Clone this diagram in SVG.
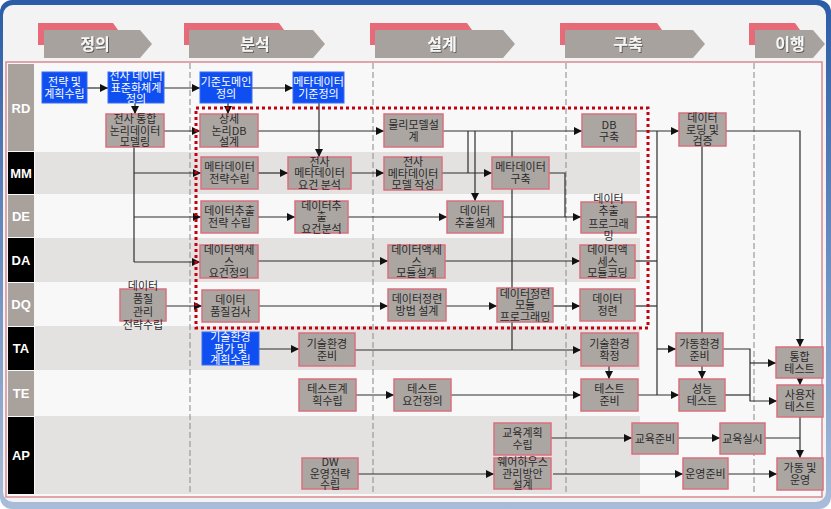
<svg xmlns="http://www.w3.org/2000/svg" width="831" height="509" viewBox="0 0 831 509">
<defs>
<linearGradient id="bg" x1="0" y1="0" x2="0" y2="1">
<stop offset="0" stop-color="#2a5ca6"/><stop offset="1" stop-color="#a9bdd9"/>
</linearGradient>
<marker id="ah" viewBox="0 0 10 10" refX="10" refY="5" markerWidth="8" markerHeight="8" markerUnits="userSpaceOnUse" orient="auto">
<path d="M0,0 L10,5 L0,10 z" fill="#111"/>
</marker>
<filter id="sh" x="-20%" y="-20%" width="140%" height="140%">
<feDropShadow dx="1" dy="1" stdDeviation="0.6" flood-color="#555" flood-opacity="0.9"/>
</filter>
<style>
.ln{fill:none;stroke:#2e2e2e;stroke-width:1.2}
.a{marker-end:url(#ah)}
.g rect{fill:#aca6a2;stroke:#d8707e;stroke-width:1.5}
.b rect{fill:#0f4ff2;stroke:#3a6cf0;stroke-width:1}
.tx{font-family:"Noto Sans CJK KR","Noto Sans",sans-serif;font-size:11px;text-anchor:middle;fill:#2a2a2a}
.b .tx{fill:#ffffff}
.hd{font-family:"Noto Sans CJK KR","Noto Sans",sans-serif;font-size:16px;font-weight:bold;text-anchor:middle;fill:#f6f6f6;filter:url(#sh)}
.rl{font-family:"Liberation Sans","Noto Sans",sans-serif;font-size:13px;font-weight:bold;text-anchor:middle;fill:#ffffff}
.pk{fill:#e66a78}
.cv{fill:#a8a29e}
.sep{stroke:#9a9a9a;stroke-width:1.2;stroke-dasharray:6 3;fill:none}
.band{fill:#e4e2e0}
</style>
</defs>

<!-- frame -->
<rect x="0" y="0" width="831" height="509" rx="12" fill="url(#bg)"/>
<rect x="3" y="5" width="823" height="497" rx="10" fill="#f3f3f3"/>

<!-- header phases -->
<g id="phases">
<polygon class="pk" points="38,23 113,23 118,30 118,45 38,45"/>
<polygon class="cv" points="44,30 140,30 152,44 140,58 44,58"/>
<text class="hd" x="95" y="50">정의</text>
<polygon class="pk" points="184,23 279,23 284,30 284,45 184,45"/>
<polygon class="cv" points="189,30 313,30 325,44 313,58 189,58"/>
<text class="hd" x="255" y="50">분석</text>
<polygon class="pk" points="370,23 467,23 472,30 472,45 370,45"/>
<polygon class="cv" points="375,30 503,30 515,44 503,58 375,58"/>
<text class="hd" x="442" y="50">설계</text>
<polygon class="pk" points="560,23 657,23 662,30 662,45 560,45"/>
<polygon class="cv" points="565,30 693,30 705,44 693,58 565,58"/>
<text class="hd" x="628" y="50">구축</text>
<polygon class="pk" points="749,23 795,23 800,30 800,45 749,45"/>
<polygon class="cv" points="755,30 813,30 825,44 813,58 755,58"/>
<text class="hd" x="790" y="50">이행</text>
</g>

<!-- table -->
<g id="table">
<rect x="6" y="62" width="816" height="435" fill="#f8f8f8" stroke="#d98a93" stroke-width="1.5"/>
<rect class="band" x="35" y="152" width="605" height="42"/>
<rect class="band" x="35" y="238" width="605" height="44"/>
<rect class="band" x="35" y="326" width="605" height="44"/>
<rect class="band" x="35" y="416" width="605" height="78"/>
<rect x="8" y="64" width="26" height="87" fill="#a8a19c"/>
<rect x="8" y="152" width="26" height="42" fill="#000"/>
<rect x="8" y="195" width="26" height="42" fill="#a8a19c"/>
<rect x="8" y="238" width="26" height="44" fill="#000"/>
<rect x="8" y="283" width="26" height="43" fill="#a8a19c"/>
<rect x="8" y="327" width="26" height="43" fill="#000"/>
<rect x="8" y="371" width="26" height="45" fill="#a8a19c"/>
<rect x="8" y="417" width="26" height="77" fill="#000"/>
<text class="rl" x="21" y="113">RD</text>
<text class="rl" x="21" y="178">MM</text>
<text class="rl" x="21" y="221">DE</text>
<text class="rl" x="21" y="265">DA</text>
<text class="rl" x="21" y="309">DQ</text>
<text class="rl" x="21" y="353">TA</text>
<text class="rl" x="21" y="398">TE</text>
<text class="rl" x="21" y="460">AP</text>
<line class="sep" x1="190" y1="63" x2="190" y2="494"/>
<line class="sep" x1="373" y1="63" x2="373" y2="494"/>
<line class="sep" x1="566" y1="63" x2="566" y2="494"/>
<line class="sep" x1="754" y1="63" x2="754" y2="494"/>
</g>

<!-- connectors -->
<g id="connectors">
<path class="ln a" d="M87,88 H108"/>
<path class="ln a" d="M164,88 H200"/>
<path class="ln a" d="M252,88 H293"/>
<path class="ln a" d="M135,103 V114"/>
<path class="ln a" d="M228,103 V114"/>
<path class="ln a" d="M319,103 V157"/>
<path class="ln a" d="M164,131 H200"/>
<path class="ln a" d="M258,131 H384"/>
<path class="ln a" d="M443,131 H582"/>
<path class="ln" d="M468,131 V173"/>
<path class="ln a" d="M475,131 V201"/>
<path class="ln" d="M512,131 V350"/>
<path class="ln a" d="M636,131 H679"/>
<path class="ln" d="M657,131 V395"/>
<path class="ln" d="M702,146 V333"/>
<path class="ln a" d="M726,131 H800 V347"/>
<path class="ln" d="M134,147 V262"/>
<path class="ln a" d="M134,173 H201"/>
<path class="ln a" d="M134,217 H201"/>
<path class="ln a" d="M134,262 H200"/>
<path class="ln a" d="M258,173 H288"/>
<path class="ln a" d="M351,173 H384"/>
<path class="ln a" d="M442,173 H492"/>
<path class="ln" d="M549,173 H565 V217"/>
<path class="ln a" d="M258,217 H295"/>
<path class="ln a" d="M348,217 H447"/>
<path class="ln a" d="M503,217 H581"/>
<path class="ln" d="M636,217 H657"/>
<path class="ln a" d="M258,261 H388"/>
<path class="ln a" d="M445,261 H580"/>
<path class="ln" d="M635,261 H657"/>
<path class="ln a" d="M166,306 H202"/>
<path class="ln a" d="M259,306 H388"/>
<path class="ln a" d="M446,306 H497"/>
<path class="ln a" d="M553,306 H580"/>
<path class="ln" d="M635,306 H657"/>
<path class="ln a" d="M259,349 H299"/>
<path class="ln a" d="M355,350 H581"/>
<path class="ln a" d="M609,366 V379"/>
<path class="ln a" d="M657,349 H676"/>
<path class="ln a" d="M702,366 V379"/>
<path class="ln a" d="M723,349 H750 V401 H777"/>
<path class="ln a" d="M750,363 H776"/>
<path class="ln a" d="M800,378 V385"/>
<path class="ln a" d="M356,395 H394"/>
<path class="ln a" d="M451,395 H581"/>
<path class="ln a" d="M638,395 H679"/>
<path class="ln" d="M725,395 H750"/>
<path class="ln a" d="M800,417 V458"/>
<path class="ln a" d="M551,438 H632"/>
<path class="ln a" d="M678,438 H720"/>
<path class="ln" d="M765,438 H800"/>
<path class="ln a" d="M358,474 H494"/>
<path class="ln a" d="M553,474 H683"/>
<path class="ln a" d="M728,474 H777"/>
</g>

<!-- dotted scope -->
<rect x="196" y="108" width="452" height="220" fill="none" stroke="#c40010" stroke-width="3" stroke-dasharray="3 3"/>

<!-- nodes -->
<g id="n1" class="b"><rect x="42" y="72" width="45" height="31"/><text class="tx"><tspan x="64.5" y="85.5">전략 및</tspan><tspan x="64.5" y="97.5">계획수립</tspan></text></g>
<g id="n2" class="b"><rect x="108" y="72" width="56" height="31"/><text class="tx"><tspan x="136" y="80">전사 데이터</tspan><tspan x="136" y="91.5">표준화체계</tspan><tspan x="136" y="103">정의</tspan></text></g>
<g id="n3" class="b"><rect x="200" y="72" width="52" height="31"/><text class="tx"><tspan x="226" y="85.5">기준도메인</tspan><tspan x="226" y="97.5">정의</tspan></text></g>
<g id="n4" class="b"><rect x="293" y="72" width="51" height="31"/><text class="tx"><tspan x="318.5" y="85.5">메타데이터</tspan><tspan x="318.5" y="97.5">기준정의</tspan></text></g>
<g id="n5" class="g"><rect x="106" y="114" width="58" height="33"/><text class="tx"><tspan x="135" y="123">전사 통합</tspan><tspan x="135" y="134.5">논리데이터</tspan><tspan x="135" y="146">모델링</tspan></text></g>
<g id="n6" class="g"><rect x="200" y="114" width="58" height="33"/><text class="tx"><tspan x="229" y="123">상세</tspan><tspan x="229" y="134.5">논리DB</tspan><tspan x="229" y="146">설계</tspan></text></g>
<g id="n7" class="g"><rect x="384" y="114" width="59" height="33"/><text class="tx"><tspan x="413.5" y="128.5">물리모델설</tspan><tspan x="413.5" y="140.5">계</tspan></text></g>
<g id="n8" class="g"><rect x="582" y="114" width="54" height="33"/><text class="tx"><tspan x="609" y="128.5">DB</tspan><tspan x="609" y="140.5">구축</tspan></text></g>
<g id="n9" class="g"><rect x="679" y="113" width="47" height="33"/><text class="tx"><tspan x="702.5" y="122">데이터</tspan><tspan x="702.5" y="133.5">로딩 및</tspan><tspan x="702.5" y="145">검증</tspan></text></g>
<g id="n10" class="g"><rect x="201" y="157" width="57" height="32"/><text class="tx"><tspan x="229.5" y="171">메타데이터</tspan><tspan x="229.5" y="183">전략수립</tspan></text></g>
<g id="n11" class="g"><rect x="288" y="157" width="63" height="32"/><text class="tx"><tspan x="319.5" y="165.5">전사</tspan><tspan x="319.5" y="177">메타데이터</tspan><tspan x="319.5" y="188.5">요건 분석</tspan></text></g>
<g id="n12" class="g"><rect x="384" y="157" width="58" height="33"/><text class="tx"><tspan x="413" y="166">전사</tspan><tspan x="413" y="177.5">메타데이터</tspan><tspan x="413" y="189">모델 작성</tspan></text></g>
<g id="n13" class="g"><rect x="492" y="157" width="57" height="32"/><text class="tx"><tspan x="520.5" y="171">메타데이터</tspan><tspan x="520.5" y="183">구축</tspan></text></g>
<g id="n14" class="g"><rect x="201" y="201" width="57" height="32"/><text class="tx"><tspan x="229.5" y="215">데이터추출</tspan><tspan x="229.5" y="227">전략 수립</tspan></text></g>
<g id="n15" class="g"><rect x="295" y="201" width="53" height="32"/><text class="tx"><tspan x="321.5" y="209.5">데이터추</tspan><tspan x="321.5" y="221">출</tspan><tspan x="321.5" y="232.5">요건분석</tspan></text></g>
<g id="n16" class="g"><rect x="447" y="201" width="56" height="32"/><text class="tx"><tspan x="475" y="215">데이터</tspan><tspan x="475" y="227">추출설계</tspan></text></g>
<g id="n17" class="g"><rect x="581" y="202" width="55" height="31"/><text class="tx"><tspan x="608.5" y="202.5">데이터</tspan><tspan x="608.5" y="215">추출</tspan><tspan x="608.5" y="227.5">프로그래</tspan><tspan x="608.5" y="240">밍</tspan></text></g>
<g id="n18" class="g"><rect x="200" y="245" width="58" height="33"/><text class="tx"><tspan x="229" y="254">데이터액세</tspan><tspan x="229" y="265.5">스</tspan><tspan x="229" y="277">요건정의</tspan></text></g>
<g id="n19" class="g"><rect x="388" y="245" width="57" height="33"/><text class="tx"><tspan x="416.5" y="254">데이터액세</tspan><tspan x="416.5" y="265.5">스</tspan><tspan x="416.5" y="277">모듈설계</tspan></text></g>
<g id="n20" class="g"><rect x="580" y="245" width="55" height="33"/><text class="tx"><tspan x="607.5" y="254">데이터액</tspan><tspan x="607.5" y="265.5">세스</tspan><tspan x="607.5" y="277">모듈코딩</tspan></text></g>
<g id="n21" class="g"><rect x="120" y="289" width="46" height="32"/><text class="tx"><tspan x="143" y="289.5">데이터</tspan><tspan x="143" y="302.5">품질</tspan><tspan x="143" y="315.5">관리</tspan><tspan x="143" y="328.5">전략수립</tspan></text></g>
<g id="n22" class="g"><rect x="202" y="290" width="57" height="32"/><text class="tx"><tspan x="230.5" y="304">데이터</tspan><tspan x="230.5" y="316">품질검사</tspan></text></g>
<g id="n23" class="g"><rect x="388" y="289" width="58" height="32"/><text class="tx"><tspan x="417" y="303">데이터정련</tspan><tspan x="417" y="315">방법 설계</tspan></text></g>
<g id="n24" class="g"><rect x="497" y="288" width="56" height="34"/><text class="tx"><tspan x="525" y="297.5">데이터정련</tspan><tspan x="525" y="309">모듈</tspan><tspan x="525" y="320.5">프로그래밍</tspan></text></g>
<g id="n25" class="g"><rect x="580" y="289" width="55" height="32"/><text class="tx"><tspan x="607.5" y="303">데이터</tspan><tspan x="607.5" y="315">정련</tspan></text></g>
<g id="n26" class="b"><rect x="202" y="332" width="57" height="33"/><text class="tx"><tspan x="230.5" y="341">기술환경</tspan><tspan x="230.5" y="352.5">평가 및</tspan><tspan x="230.5" y="364">계획수립</tspan></text></g>
<g id="n27" class="g"><rect x="299" y="333" width="56" height="33"/><text class="tx"><tspan x="327" y="347.5">기술환경</tspan><tspan x="327" y="359.5">준비</tspan></text></g>
<g id="n28" class="g"><rect x="581" y="333" width="57" height="33"/><text class="tx"><tspan x="609.5" y="347.5">기술환경</tspan><tspan x="609.5" y="359.5">확정</tspan></text></g>
<g id="n29" class="g"><rect x="676" y="333" width="47" height="33"/><text class="tx"><tspan x="699.5" y="347.5">가동환경</tspan><tspan x="699.5" y="359.5">준비</tspan></text></g>
<g id="n30" class="g"><rect x="776" y="347" width="47" height="31"/><text class="tx"><tspan x="799.5" y="360.5">통합</tspan><tspan x="799.5" y="372.5">테스트</tspan></text></g>
<g id="n31" class="g"><rect x="299" y="379" width="57" height="32"/><text class="tx"><tspan x="327.5" y="393">테스트계</tspan><tspan x="327.5" y="405">획수립</tspan></text></g>
<g id="n32" class="g"><rect x="394" y="379" width="57" height="32"/><text class="tx"><tspan x="422.5" y="393">테스트</tspan><tspan x="422.5" y="405">요건정의</tspan></text></g>
<g id="n33" class="g"><rect x="581" y="379" width="57" height="32"/><text class="tx"><tspan x="609.5" y="393">테스트</tspan><tspan x="609.5" y="405">준비</tspan></text></g>
<g id="n34" class="g"><rect x="679" y="379" width="46" height="32"/><text class="tx"><tspan x="702" y="393">성능</tspan><tspan x="702" y="405">테스트</tspan></text></g>
<g id="n35" class="g"><rect x="777" y="385" width="46" height="32"/><text class="tx"><tspan x="800" y="399">사용자</tspan><tspan x="800" y="411">테스트</tspan></text></g>
<g id="n36" class="g"><rect x="494" y="423" width="57" height="32"/><text class="tx"><tspan x="522.5" y="437">교육계획</tspan><tspan x="522.5" y="449">수립</tspan></text></g>
<g id="n37" class="g"><rect x="494" y="458" width="57" height="31"/><text class="tx"><tspan x="522.5" y="466">웨어하우스</tspan><tspan x="522.5" y="477.5">관리방안</tspan><tspan x="522.5" y="489">설계</tspan></text></g>
<g id="n38" class="g"><rect x="302" y="458" width="56" height="31"/><text class="tx"><tspan x="330" y="466">DW</tspan><tspan x="330" y="477.5">운영전략</tspan><tspan x="330" y="489">수립</tspan></text></g>
<g id="n39" class="g"><rect x="632" y="423" width="46" height="31"/><text class="tx"><tspan x="655" y="442.5">교육준비</tspan></text></g>
<g id="n40" class="g"><rect x="720" y="423" width="45" height="31"/><text class="tx"><tspan x="742.5" y="442.5">교육실시</tspan></text></g>
<g id="n41" class="g"><rect x="683" y="458" width="45" height="31"/><text class="tx"><tspan x="705.5" y="477.5">운영준비</tspan></text></g>
<g id="n42" class="g"><rect x="777" y="458" width="46" height="32"/><text class="tx"><tspan x="800" y="472">가동 및</tspan><tspan x="800" y="484">운영</tspan></text></g>
</svg>
